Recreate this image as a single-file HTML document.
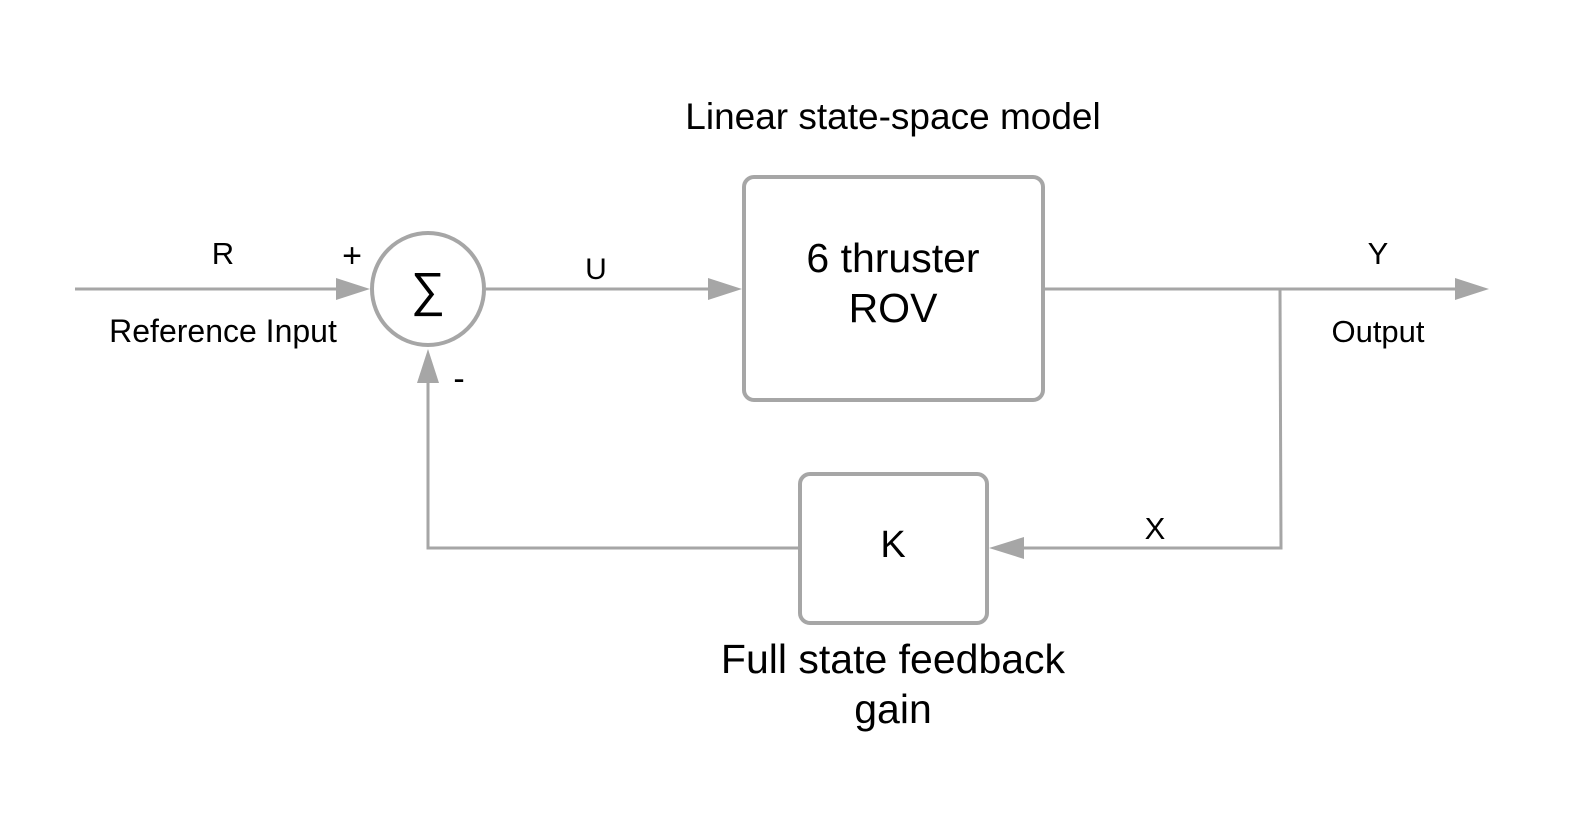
<!DOCTYPE html>
<html><head><style>
html,body{margin:0;padding:0;background:#fff;}
svg{display:block;}
text{font-family:"Liberation Sans",sans-serif;fill:#000;}
</style></head><body>
<svg width="1579" height="836" viewBox="0 0 1579 836" xmlns="http://www.w3.org/2000/svg">
<g stroke="#a6a6a6" fill="none">
<line x1="75" y1="289" x2="340" y2="289" stroke-width="3"/>
<line x1="486" y1="289" x2="710" y2="289" stroke-width="3"/>
<line x1="1045" y1="289" x2="1456" y2="289" stroke-width="3"/>
<polyline points="1280,289 1281,548 1024,548" stroke-width="3"/>
<polyline points="800,548 428,548 428,382" stroke-width="3"/>
<circle cx="428" cy="289" r="56" stroke-width="4"/>
<rect x="744" y="177" width="299" height="223" rx="10" stroke-width="4"/>
<rect x="800" y="474" width="187" height="149" rx="10" stroke-width="4"/>
</g>
<g fill="#a6a6a6">
<polygon points="370,289 336,278 336,300"/>
<polygon points="742,289 708,278 708,300"/>
<polygon points="1489,289 1455,278 1455,300"/>
<polygon points="989,548 1024,537 1024,559"/>
<polygon points="428,349 417,383 439,383"/>
</g>
<text x="893" y="129" font-size="37" text-anchor="middle">Linear state-space model</text>
<text x="893" y="272" font-size="41" text-anchor="middle">6 thruster</text>
<text x="893" y="322" font-size="41" text-anchor="middle">ROV</text>
<text x="893" y="557" font-size="38" text-anchor="middle">K</text>
<text x="893" y="673" font-size="41" text-anchor="middle">Full state feedback</text>
<text x="893" y="723" font-size="41" text-anchor="middle">gain</text>
<text x="428" y="306" font-size="48" text-anchor="middle">∑</text>
<text x="223" y="264" font-size="31" text-anchor="middle">R</text>
<text x="223" y="342" font-size="32" text-anchor="middle">Reference Input</text>
<text x="352" y="267" font-size="34" text-anchor="middle">+</text>
<text x="459" y="390" font-size="34" text-anchor="middle">-</text>
<text x="596" y="279" font-size="30" text-anchor="middle">U</text>
<text x="1378" y="264" font-size="31" text-anchor="middle">Y</text>
<text x="1378" y="342" font-size="31" text-anchor="middle">Output</text>
<text x="1155" y="539" font-size="31" text-anchor="middle">X</text>
</svg>
</body></html>
